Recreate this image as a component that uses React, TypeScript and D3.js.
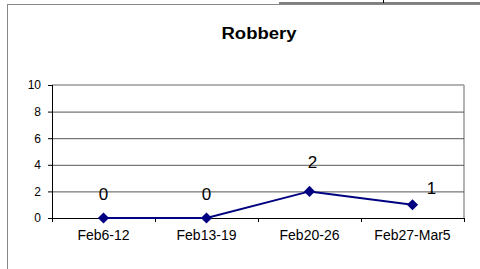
import React from "react";
import * as d3 from "d3";

// chart data
const weeks = ["Feb6-12", "Feb13-19", "Feb20-26", "Feb27-Mar5"];
const robberies = [0, 0, 2, 1];
const yTicks = [0, 2, 4, 6, 8, 10];

// Excel put the data labels a little off the points, nudge them the same way
const labelNudge = [
  { dx: 0, dy: -18 },
  { dx: 0, dy: -18 },
  { dx: 3, dy: -23 },
  { dx: 19, dy: -11 },
];

const W = 480,
  H = 269;
const plot = { left: 52, right: 464, top: 85, bottom: 218 };

export default function App() {
  const x = d3
    .scaleBand()
    .domain(weeks)
    .range([plot.left, plot.right]);
  const y = d3
    .scaleLinear()
    .domain([0, 10])
    .range([plot.bottom, plot.top]);

  const cx = (d: string) => (x(d) as number) + x.bandwidth() / 2;

  const line = d3
    .line<number>()
    .x((d, i) => cx(weeks[i]))
    .y((d) => y(d));

  const marker = d3.symbol(d3.symbolSquare, 62)();

  const boundaries = weeks.map((w) => x(w) as number).concat([plot.right]);

  return (
    <svg
      width={W}
      height={H}
      style={{ position: "absolute", left: 0, top: 0, background: "#fff" }}
      fontFamily="Arial, 'Liberation Sans', sans-serif"
    >
      {/* bits of the sheet around the chart */}
      <line x1={279} x2={480} y1={3} y2={3} stroke="#000" strokeWidth={1} />
      <line x1={383.5} x2={383.5} y1={0} y2={3} stroke="#000" strokeWidth={1} />
      <line x1={7} x2={480} y1={4.5} y2={4.5} stroke="#888" strokeWidth={1} />
      <line x1={7.5} x2={7.5} y1={4} y2={H} stroke="#888" strokeWidth={1} />

      <text
        x={259}
        y={39}
        textAnchor="middle"
        fontSize={16}
        fontWeight="bold"
        textLength={75}
        lengthAdjust="spacingAndGlyphs"
      >
        Robbery
      </text>

      {/* plot border */}
      <line x1={plot.left} x2={plot.right} y1={plot.top} y2={plot.top} stroke="#999" strokeWidth={1.5} />
      <line x1={plot.right} x2={plot.right} y1={plot.top} y2={plot.bottom} stroke="#999" strokeWidth={1.5} />

      {/* gridlines + y axis */}
      {yTicks.map((t) => (
        <g key={t}>
          {t > 0 && t < 10 && (
            <line
              x1={plot.left}
              x2={plot.right}
              y1={y(t) + 0.5}
              y2={y(t) + 0.5}
              stroke="#555"
              strokeWidth={1}
            />
          )}
          <line x1={plot.left - 4} x2={plot.left} y1={y(t) + 0.5} y2={y(t) + 0.5} stroke="#000" />
          <text x={41} y={y(t)} dy="0.36em" textAnchor="end" fontSize={12}>
            {t}
          </text>
        </g>
      ))}
      <line x1={plot.left + 0.5} x2={plot.left + 0.5} y1={plot.top} y2={plot.bottom} stroke="#000" />
      <line x1={plot.left} x2={plot.right} y1={plot.bottom + 0.5} y2={plot.bottom + 0.5} stroke="#000" />

      {/* x axis */}
      {boundaries.map((b, i) => (
        <line key={i} x1={b + 0.5} x2={b + 0.5} y1={plot.bottom} y2={plot.bottom + 4} stroke="#000" />
      ))}
      {weeks.map((w) => (
        <text key={w} x={cx(w)} y={240} textAnchor="middle" fontSize={14}>
          {w}
        </text>
      ))}

      {/* series */}
      <path d={line(robberies) || ""} fill="none" stroke="#000080" strokeWidth={2} />
      {robberies.map((v, i) => (
        <path
          key={i}
          d={marker || ""}
          transform={`translate(${cx(weeks[i])},${y(v)}) rotate(45)`}
          fill="#000080"
        />
      ))}
      {robberies.map((v, i) => (
        <text
          key={i}
          x={cx(weeks[i]) + labelNudge[i].dx}
          y={y(v) + labelNudge[i].dy}
          textAnchor="middle"
          fontSize={17}
        >
          {v}
        </text>
      ))}
    </svg>
  );
}
